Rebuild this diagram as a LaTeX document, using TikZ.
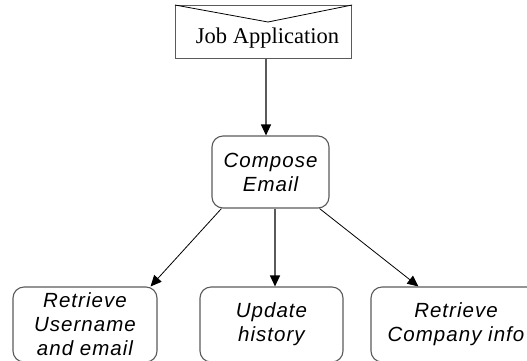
\documentclass[tikz,border=0pt]{standalone}
\usepackage{fontspec}
\setmainfont{Liberation Serif}
\newfontfamily\boxfont[LetterSpace=5]{Liberation Sans}
\usetikzlibrary{arrows.meta}
\definecolor{edgegray}{HTML}{5A5A5A}
\tikzset{
  procbox/.style={draw=edgegray, line width=1.1pt, rounded corners=11pt, inner sep=0pt,
    font=\boxfont\itshape\fontsize{20.5}{24}\selectfont, align=center, text=black},
  flowarrow/.style={-{Triangle[length=11pt,width=10pt,black]}, line width=0.8pt, draw=black},
  vflow/.style={-{Triangle[length=11pt,width=10pt,black]}, line width=1.2pt, draw=edgegray},
}
\begin{document}
\begin{tikzpicture}[x=1pt,y=-1pt]
\useasboundingbox (0,0) rectangle (527,360);
\clip (0,0) rectangle (527,360);
% envelope
\node[draw=edgegray, line width=1.1pt, minimum width=176pt, minimum height=53pt, inner sep=0pt,
  anchor=north west] (job) at (175,5) {};
\node[font=\fontsize{22.5}{26}\selectfont, anchor=base] (jobtext) at (267.5,43) {Job Application};
\coordinate (vtip) at (268,22);
\draw[black, line width=0.8pt] (job.north west) -- (vtip) -- (job.north east);
% compose
\node[procbox, minimum width=117pt, minimum height=72pt] (compose) at (270.5,172) {Compose\\Email};
% bottom boxes
\node[procbox, minimum width=144pt, minimum height=75pt] (ret) at (85,324.5) {Retrieve\\Username\\and email};
\node[procbox, minimum width=143pt, minimum height=75pt] (upd) at (271.5,324.5) {Update\\history};
\node[procbox, minimum width=170pt, minimum height=75pt] (comp) at (456,324.5) {Retrieve\\Company info};
% connectors
\draw[vflow] (job.south -| 266,0) -- (compose.north -| 266,0);
\draw[flowarrow] (compose.south west) ++(10,0) -- ([xshift=-7pt]ret.north east);
\draw[vflow] (compose.south -| 275,0) -- (upd.north -| 275,0);
\draw[flowarrow] (compose.south east) ++(-10,0) -- ([xshift=48pt]comp.north west);
\end{tikzpicture}
\end{document}
